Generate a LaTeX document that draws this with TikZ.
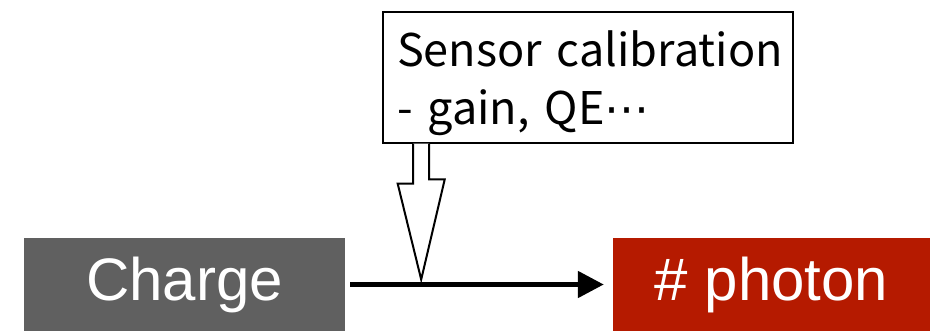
\documentclass[tikz,border=0pt]{standalone}
\usepackage{fontspec}
\setmainfont{Liberation Sans}
\newfontfamily\jpfont{Noto Sans CJK JP}
\newfontfamily\dotfont{DejaVu Sans}
\usetikzlibrary{arrows.meta, calc}
\definecolor{cgray}{HTML}{606060}
\definecolor{cred}{HTML}{B51A00}

\begin{document}
\begin{tikzpicture}[x=1pt, y=-1pt,
  stage/.style={minimum width=#1, minimum height=93pt, inner sep=0pt, text=white,
    font=\fontsize{60}{64}\selectfont},
  note/.style={draw, line width=1.5pt, fill=white, minimum height=131pt, text width=382pt,
    inner xsep=14pt, align=left, font=\jpfont\fontsize{45}{58}\selectfont}]
  \useasboundingbox (0,0) rectangle (932,331);

  \node[stage=321pt, fill=cgray] (charge) at (184.5,284.5) {Charge};
  \node[stage=317pt, fill=cred] (photon) at (771.5,284.5) {\# photon};
  \node[note] (calib) at (588,77.5) {\rule{0pt}{47pt}\mbox{Sensor calibration}\\- gain, QE{\dotfont ⋯}};

  \draw[line width=5pt, -{Triangle[length=26pt,width=26pt]}]
    ([xshift=5pt]charge.east) -- ([xshift=-9pt]photon.west);

  % hollow arrow from the calibration box onto the line
  \coordinate (tip) at ($(charge.east)!0.284!(photon.west)$);
  \draw[line width=2pt, fill=white]
    ($(tip |- calib.south)+(-8,0)$) -- ++(0,40) -- ++(-15.5,0) -- ($(tip)+(0,-5)$)
    -- ++(23.5,-100) -- ++(-15.5,0) -- ($(tip |- calib.south)+(8,0)$);
\end{tikzpicture}
\end{document}
